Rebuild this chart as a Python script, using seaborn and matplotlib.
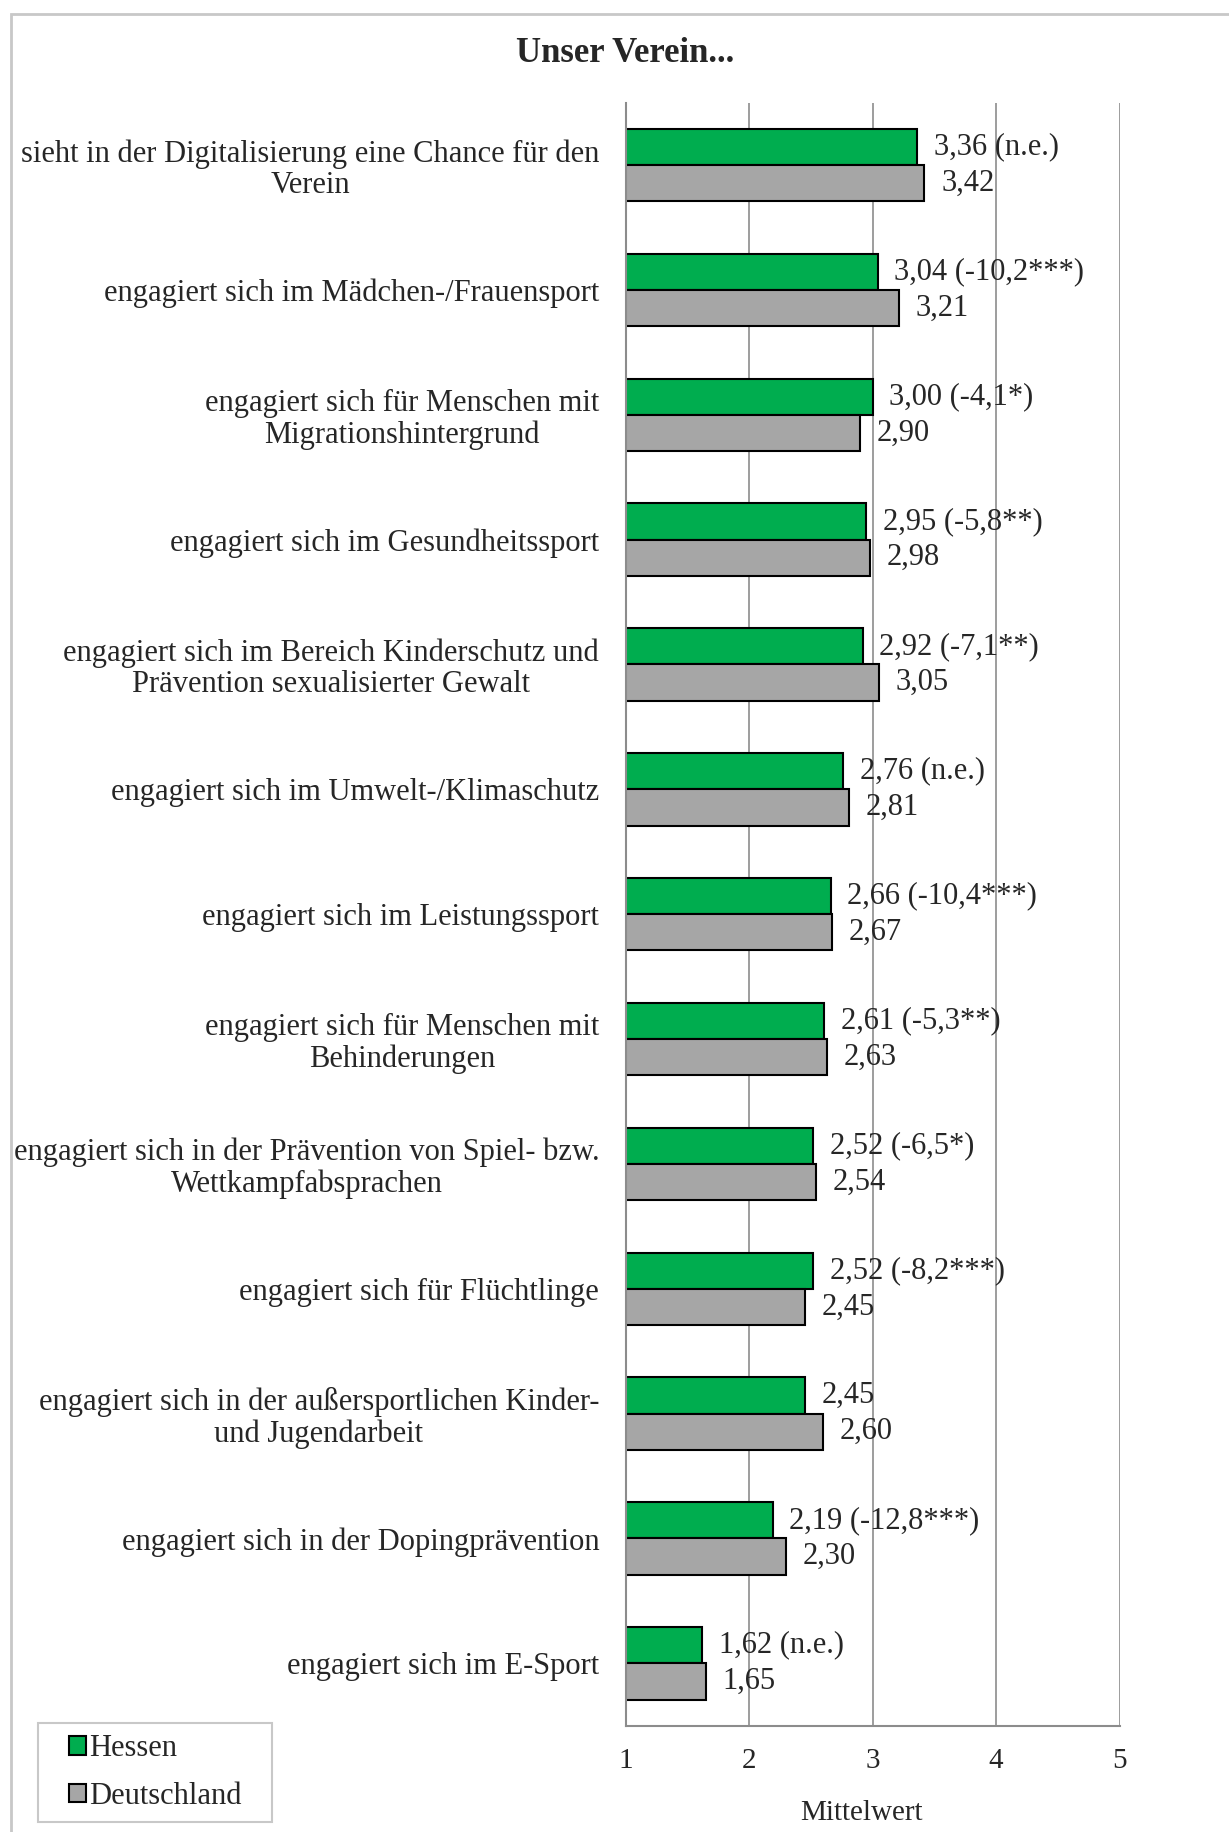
import numpy as np
import pandas as pd
import matplotlib
matplotlib.use("Agg")
import matplotlib.pyplot as plt
from matplotlib.patches import Rectangle
import seaborn as sns

# Daten
kategorien = [
    "sieht in der Digitalisierung eine Chance für den\nVerein",
    "engagiert sich im Mädchen-/Frauensport",
    "engagiert sich für Menschen mit\nMigrationshintergrund",
    "engagiert sich im Gesundheitssport",
    "engagiert sich im Bereich Kinderschutz und\nPrävention sexualisierter Gewalt",
    "engagiert sich im Umwelt-/Klimaschutz",
    "engagiert sich im Leistungssport",
    "engagiert sich für Menschen mit\nBehinderungen",
    "engagiert sich in der Prävention von Spiel- bzw.\nWettkampfabsprachen",
    "engagiert sich für Flüchtlinge",
    "engagiert sich in der außersportlichen Kinder-\nund Jugendarbeit",
    "engagiert sich in der Dopingprävention",
    "engagiert sich im E-Sport",
]
hessen = [3.36, 3.04, 3.00, 2.95, 2.92, 2.76, 2.66, 2.61, 2.52, 2.52, 2.45, 2.19, 1.62]
deutschland = [3.42, 3.21, 2.90, 2.98, 3.05, 2.81, 2.67, 2.63, 2.54, 2.45, 2.60, 2.30, 1.65]
veraenderung = ["(n.e.)", "(-10,2***)", "(-4,1*)", "(-5,8**)", "(-7,1**)", "(n.e.)",
                "(-10,4***)", "(-5,3**)", "(-6,5*)", "(-8,2***)", "", "(-12,8***)", "(n.e.)"]
x_ticks = [1, 2, 3, 4, 5]

df = pd.DataFrame({
    "Kategorie": kategorien * 2,
    "Mittelwert": hessen + deutschland,
    "Region": ["Hessen"] * len(hessen) + ["Deutschland"] * len(deutschland),
})

sns.set_style("white")
plt.rcParams['font.family'] = ['Liberation Serif', 'DejaVu Serif']
FS = 22

fig = plt.figure(figsize=(12.29, 18.32), dpi=100)
ax = fig.add_axes([0.509, 0.058, 0.402, 0.886])

sns.barplot(data=df, y="Kategorie", x="Mittelwert", hue="Region", orient="h",
            palette={"Hessen": "#00AD4F", "Deutschland": "#A6A6A6"}, saturation=1,
            edgecolor="black", linewidth=1.5, width=0.58, ax=ax, legend=False)

def fmt(v):
    return f"{v:.2f}".replace(".", ",")

lab_h = [f"{fmt(v)} {z}".strip() for v, z in zip(hessen, veraenderung)]
lab_d = [fmt(v) for v in deutschland]
ax.bar_label(ax.containers[0], labels=lab_h, padding=12, fontsize=FS)
ax.bar_label(ax.containers[1], labels=lab_d, padding=12, fontsize=FS)

ax.set_xlim(1, 5)
ax.set_ylim(len(kategorien) - 0.5, -0.5)
ax.set_xticks(x_ticks)
ax.set_xticklabels([str(t) for t in x_ticks], fontsize=21)
ax.tick_params(axis="x", length=6, width=1.2, color="#8C8C8C", pad=10)
ax.tick_params(axis="y", which="major", length=0, labelsize=FS, pad=19)
for t in ax.get_yticklabels():
    t.set_multialignment("center")
    t.set_linespacing(1.1)
ax.set_yticks(np.arange(-0.5, len(kategorien)), minor=True)
ax.tick_params(axis="y", which="minor", length=6, width=1.2, color="#8C8C8C")

ax.grid(axis="x", color="#8C8C8C", linewidth=1.2)
ax.set_axisbelow(True)
for s in ["top", "right"]:
    ax.spines[s].set_visible(False)
ax.spines["left"].set_color("#8C8C8C")
ax.spines["left"].set_linewidth(1.5)
ax.spines["bottom"].set_color("#8C8C8C")
ax.spines["bottom"].set_linewidth(1.5)

ax.set_ylabel("")
ax.set_xlabel("Mittelwert", fontsize=21)
ax.xaxis.set_label_coords(0.478, -0.046)

fig.text(0.509, 0.971, "Unser Verein...", ha="center", va="center",
         fontsize=25, fontweight="bold")

# Legende (Rahmen separat gezeichnet)
handles = [Rectangle((0, 0), 1, 1, facecolor="#00AD4F", edgecolor="black", linewidth=1.5),
           Rectangle((0, 0), 1, 1, facecolor="#A6A6A6", edgecolor="black", linewidth=1.5)]
fig.legend(handles, ["Hessen", "Deutschland"], loc="center",
           bbox_to_anchor=(0.1265, 0.0325), borderaxespad=0, fontsize=FS,
           frameon=False, handlelength=0.55, handleheight=0.55,
           handletextpad=0.12, labelspacing=0.6, borderpad=0)
fig.patches.append(Rectangle((0.0313, 0.0055), 0.190, 0.054,
                             transform=fig.transFigure, fill=False,
                             edgecolor="#C8C8C8", linewidth=1.5))

# Rahmen
fig.patches.append(Rectangle((0.009, -0.1), 1.2, 1.0925,
                             transform=fig.transFigure, fill=False,
                             edgecolor="#C8C8C8", linewidth=2))

fig.savefig("out.png", dpi=100)
